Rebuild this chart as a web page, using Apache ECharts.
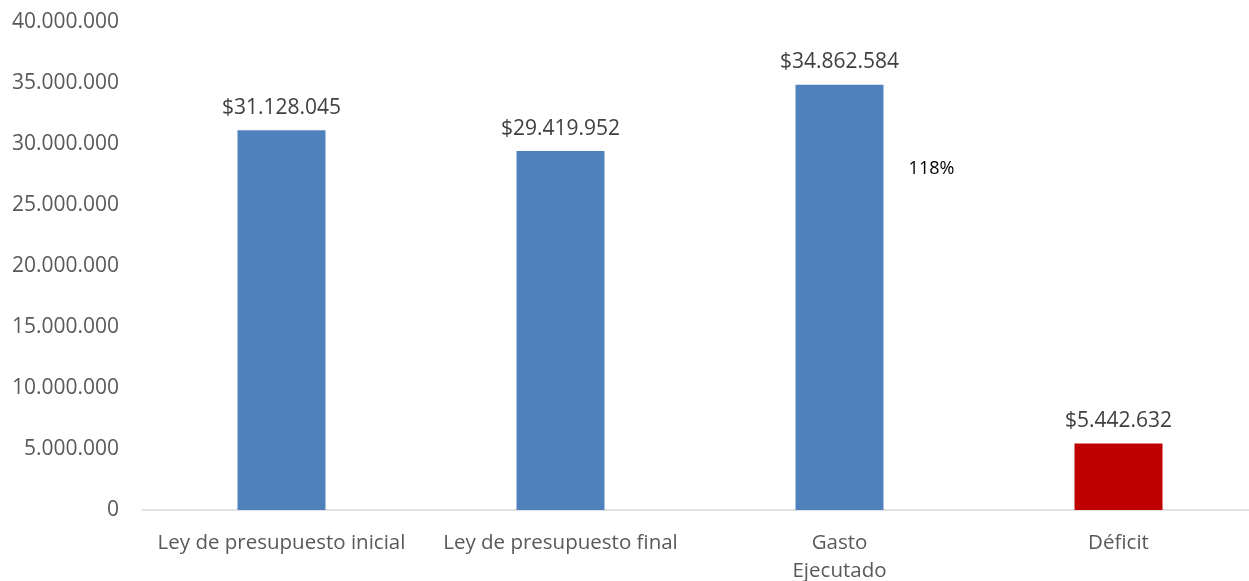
<!DOCTYPE html>
<html>
<head>
<meta charset="utf-8">
<script src="https://cdn.jsdelivr.net/npm/echarts@6/dist/echarts.min.js"></script>
<style>
  html, body { margin: 0; padding: 0; background: #fff; overflow: hidden; }
  #chart { width: 1249px; height: 581px; }
</style>
</head>
<body>
<div id="chart"></div>
<script>
// Budget execution: initial law, final law, executed spending and deficit
const categories = ['Ley de presupuesto inicial', 'Ley de presupuesto final', 'Gasto Ejecutado', 'Déficit'];
const values = [31128045, 29419952, 34862584, 5442632];
const barColors = ['#4F81BD', '#4F81BD', '#4F81BD', '#C00000'];
const yTicks = { min: 0, max: 40000000, interval: 5000000 };
const executionNote = '118%';
const noteValue = 28000000;

function dots(n) {
  return String(Math.round(n)).replace(/\B(?=(\d{3})+(?!\d))/g, '.');
}

const chart = echarts.init(document.getElementById('chart'));
chart.setOption({
  animation: false,
  grid: {
    left: 142, top: 22, width: 1116, height: 488,
    containLabel: false,
    outerBoundsMode: 'none'
  },
  xAxis: {
    type: 'category',
    data: categories,
    axisLine: { lineStyle: { color: '#D9D9D9', width: 1.5 } },
    axisTick: { show: false },
    axisLabel: {
      color: '#595959',
      fontFamily: 'Open Sans',
      fontSize: 20.5,
      margin: 19,
      lineHeight: 28,
      interval: 0,
      formatter: v => v === 'Gasto Ejecutado' ? 'Gasto\nEjecutado' : v
    }
  },
  yAxis: {
    type: 'value',
    min: yTicks.min,
    max: yTicks.max,
    interval: yTicks.interval,
    axisLine: { show: false },
    axisTick: { show: false },
    splitLine: { show: false },
    axisLabel: {
      color: '#595959',
      fontFamily: 'Open Sans',
      fontSize: 21,
      margin: 23,
      formatter: v => dots(v)
    }
  },
  series: [{
    type: 'bar',
    barWidth: 88,
    data: values.map((v, i) => ({ value: v, itemStyle: { color: barColors[i] } })),
    label: {
      show: true,
      position: 'top',
      distance: 12,
      color: '#404040',
      fontFamily: 'Open Sans',
      fontSize: 21,
      formatter: p => '$' + dots(p.value)
    },
    markPoint: {
      symbol: 'circle',
      symbolSize: 0,
      data: [{
        coord: ['Gasto Ejecutado', noteValue],
        label: {
          show: true,
          position: 'inside',
          offset: [92, 0],
          color: '#000000',
          fontFamily: 'Open Sans',
          fontSize: 18,
          formatter: executionNote
        }
      }]
    }
  }]
});
</script>
</body>
</html>
